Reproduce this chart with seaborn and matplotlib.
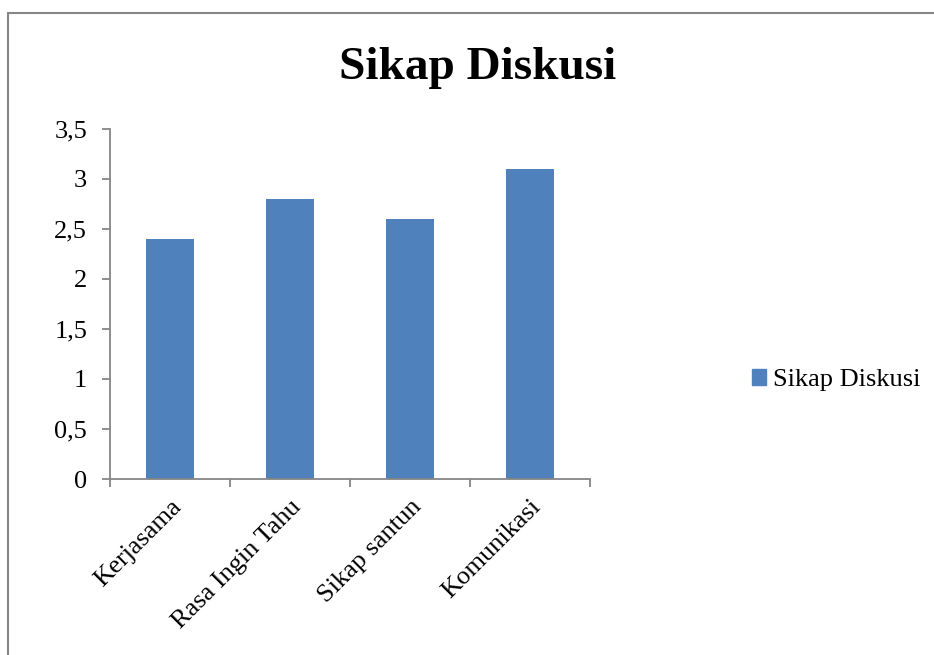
import matplotlib
matplotlib.use("Agg")
import matplotlib.pyplot as plt
import matplotlib.patches as mpatches
from matplotlib.ticker import FixedLocator, NullFormatter
import seaborn as sns

# Data
categories = ["Kerjasama", "Rasa Ingin Tahu", "Sikap santun", "Komunikasi"]
values = [2.4, 2.8, 2.6, 3.1]
series_name = "Sikap Diskusi"
y_ticks = [0, 0.5, 1, 1.5, 2, 2.5, 3, 3.5]
y_tick_labels = ["0", "0,5", "1", "1,5", "2", "2,5", "3", "3,5"]

sns.set_style("white")
plt.rcParams["font.family"] = ["Liberation Serif", "DejaVu Serif"]
plt.rcParams["text.color"] = "black"
plt.rcParams["xtick.color"] = "black"
plt.rcParams["ytick.color"] = "black"

bar_color = "#4F81BD"
axis_color = "#868686"

fig = plt.figure(figsize=(9.34, 6.55), dpi=100)
ax = fig.add_axes([0.1178, 0.2687, 0.5139, 0.5344])

sns.barplot(x=categories, y=values, color=bar_color, width=0.4,
            saturation=1, linewidth=0, ax=ax)

ax.set_ylim(0, 3.5)
ax.set_xlim(-0.5, len(categories) - 0.5)
ax.set_yticks(y_ticks)
ax.set_yticklabels(y_tick_labels, fontsize=19)

# ticks at category boundaries, labels at centres
ax.xaxis.set_major_locator(FixedLocator([i - 0.5 for i in range(len(categories) + 1)]))
ax.xaxis.set_major_formatter(NullFormatter())
ax.set_xticks(range(len(categories)), minor=True)
ax.set_xticklabels(categories, minor=True, fontsize=19, rotation=45,
                   ha="right", rotation_mode="anchor")
ax.tick_params(axis="x", which="minor", bottom=True, length=0, pad=12)
ax.tick_params(axis="x", which="major", bottom=True, length=5.5, width=1.3,
               color=axis_color, direction="out")
ax.tick_params(axis="y", left=True, length=5.5, width=1.3, color=axis_color,
               direction="out", pad=11)
ax.set_xlabel("")
ax.set_ylabel("")

for side in ["top", "right"]:
    ax.spines[side].set_visible(False)
for side in ["left", "bottom"]:
    ax.spines[side].set_color(axis_color)
    ax.spines[side].set_linewidth(1.3)

fig.text(0.511, 0.896, "Sikap Diskusi", ha="center", va="center",
         fontsize=34, fontweight="bold")

handle = mpatches.Patch(color=bar_color, label=series_name)
fig.legend(handles=[handle], loc="center left", bbox_to_anchor=(0.805, 0.42),
           frameon=False, fontsize=19, handlelength=0.55, handleheight=0.55,
           handletextpad=0.25, borderaxespad=0, borderpad=0)

# outer chart border
border = mpatches.Rectangle((0.009, -0.01), 1.1, 0.99, transform=fig.transFigure,
                            fill=False, edgecolor=axis_color, linewidth=1.5)
fig.add_artist(border)

fig.savefig("out.png", dpi=100)
